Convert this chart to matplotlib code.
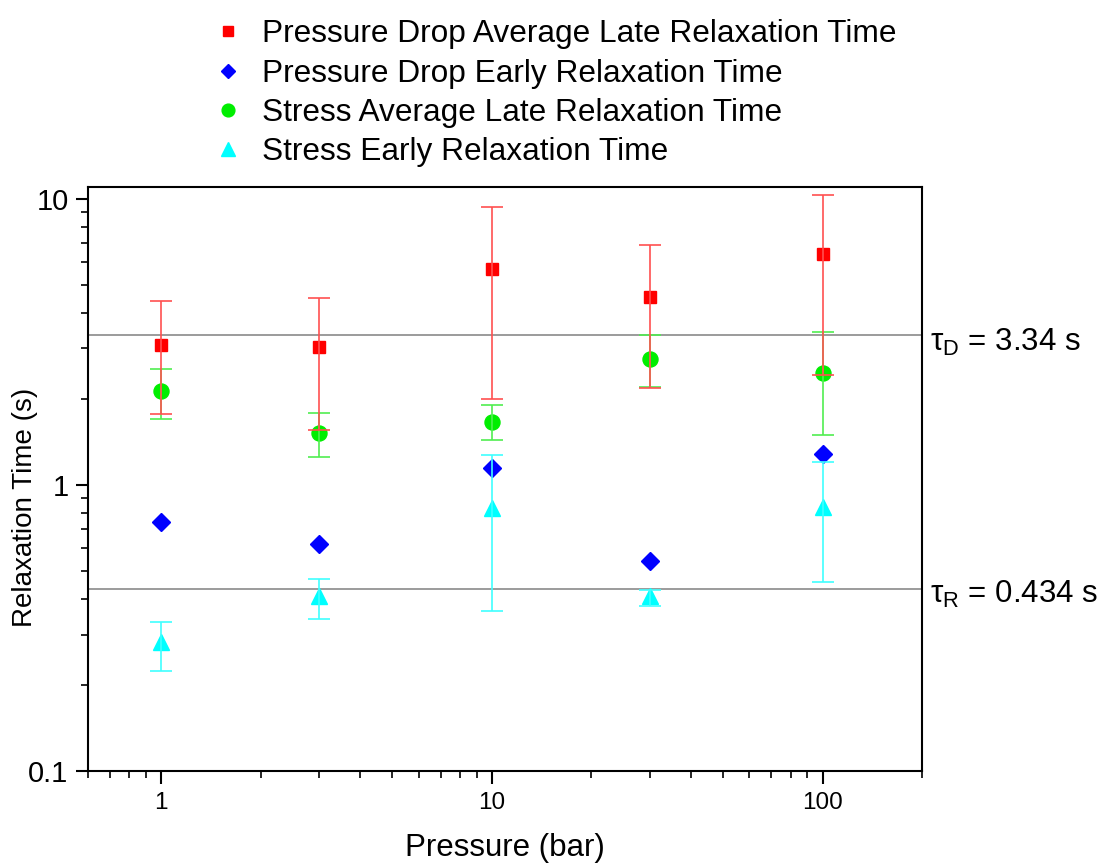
import matplotlib
matplotlib.use("Agg")
import matplotlib.pyplot as plt
import numpy as np
from matplotlib.ticker import LogLocator, NullFormatter, FixedLocator, FixedFormatter

plt.rcParams['font.family'] = ['Liberation Sans', 'DejaVu Sans']
plt.rcParams['mathtext.fontset'] = 'custom'
plt.rcParams['mathtext.rm'] = 'Liberation Sans'
plt.rcParams['mathtext.it'] = 'Liberation Sans'

pressure = [1, 3, 10, 30, 100]

pd_late = [3.08, 3.03, 5.68, 4.54, 6.39]
pd_late_lo = [1.767, 1.553, 2.00, 2.18, 2.42]
pd_late_hi = [4.39, 4.50, 9.35, 6.92, 10.35]

pd_early = [0.741, 0.622, 1.149, 0.543, 1.283]

st_late = [2.13, 1.516, 1.664, 2.765, 2.47]
st_late_lo = [1.705, 1.253, 1.436, 2.20, 1.496]
st_late_hi = [2.54, 1.781, 1.905, 3.34, 3.42]

st_early = [0.283, 0.410, 0.833, 0.408, 0.838]
st_early_lo = [0.2237, 0.339, 0.362, 0.3774, 0.458]
st_early_hi = [0.3327, 0.469, 1.276, 0.4295, 1.203]

tau_D = 3.34
tau_R = 0.434

labels = ["Pressure Drop Average Late Relaxation Time",
          "Pressure Drop Early Relaxation Time",
          "Stress Average Late Relaxation Time",
          "Stress Early Relaxation Time"]

fig = plt.figure(figsize=(10.99, 8.63), dpi=100)
ax = fig.add_axes([0.0801, 0.1066, 0.7589, 0.6767])
ax.set_xscale('log')
ax.set_yscale('log')
ax.set_xlim(0.6, 200)
ax.set_ylim(0.1, 11.0)

ax.axhline(tau_D, color='#808080', lw=1.1, zorder=1)
ax.axhline(tau_R, color='#808080', lw=1.1, zorder=1)

def errs(c, lo, hi):
    c = np.array(c); lo = np.array(lo); hi = np.array(hi)
    return [c - lo, hi - c]

h1, = ax.plot(pressure, pd_late, 's', color='#ff0000', ms=8.6, ls='none', zorder=3, label=labels[0])
h2, = ax.plot(pressure, pd_early, 'D', color='#0000ff', ms=8.8, ls='none', zorder=3, label=labels[1])
h3, = ax.plot(pressure, st_late, 'o', color='#00ee00', ms=10.8, ls='none', zorder=3, label=labels[2])
h4, = ax.plot(pressure, st_early, '^', color='#00ffff', ms=11.5, ls='none', zorder=3, label=labels[3])

ax.errorbar(pressure, st_early, yerr=errs(st_early, st_early_lo, st_early_hi), fmt='none',
            ecolor='#40ffff', elinewidth=1.2, capsize=8, capthick=1.2, zorder=4)
ax.errorbar(pressure, st_late, yerr=errs(st_late, st_late_lo, st_late_hi), fmt='none',
            ecolor='#50ee50', elinewidth=1.2, capsize=8, capthick=1.2, zorder=4)
ax.errorbar(pressure, pd_late, yerr=errs(pd_late, pd_late_lo, pd_late_hi), fmt='none',
            ecolor='#ff5050', elinewidth=1.2, capsize=8, capthick=1.2, zorder=4)

for s in ax.spines.values():
    s.set_linewidth(1.5)

ax.xaxis.set_major_locator(FixedLocator([1, 10, 100]))
ax.xaxis.set_major_formatter(FixedFormatter(['1', '10', '100']))
ax.xaxis.set_minor_locator(LogLocator(base=10, subs=np.arange(2, 10)))
ax.xaxis.set_minor_formatter(NullFormatter())
ax.yaxis.set_major_locator(FixedLocator([0.1, 1, 10]))
ax.yaxis.set_major_formatter(FixedFormatter(['0.1', '1', '10']))
ax.yaxis.set_minor_locator(LogLocator(base=10, subs=np.arange(2, 10)))
ax.yaxis.set_minor_formatter(NullFormatter())
ax.tick_params(which='major', direction='out', length=9, width=1.5, pad=6)
ax.tick_params(axis='x', which='major', labelsize=17.5)
ax.tick_params(axis='y', which='major', labelsize=21, pad=5)
ax.tick_params(which='minor', direction='out', length=5, width=1.2)
ax.tick_params(top=False, right=False)

ax.set_xlabel('Pressure (bar)', fontsize=22.5, va='center')
ax.xaxis.set_label_coords(0.5, -0.132)
ax.set_ylabel('Relaxation Time (s)', fontsize=20, va='center')
ax.yaxis.set_label_coords(-0.0755, 0.452)

ax.annotate(r'$\mathregular{\tau_D}$ = 3.34 s', xy=(1.0, tau_D), xycoords=ax.get_yaxis_transform(),
            xytext=(6, -5), textcoords='offset points', fontsize=22.5, va='center', ha='left')
ax.annotate(r'$\mathregular{\tau_R}$ = 0.434 s', xy=(1.0, tau_R), xycoords=ax.get_yaxis_transform(),
            xytext=(6, -4), textcoords='offset points', fontsize=22.5, va='center', ha='left')

fig.legend(handles=[h1, h2, h3, h4], loc='center left', bbox_to_anchor=(0.193, 0.892),
           frameon=False, fontsize=22.8, handlelength=1.0, handletextpad=0.56,
           labelspacing=0.29, borderpad=0, borderaxespad=0, markerscale=0.85)

fig.savefig('out.png', dpi=100)
